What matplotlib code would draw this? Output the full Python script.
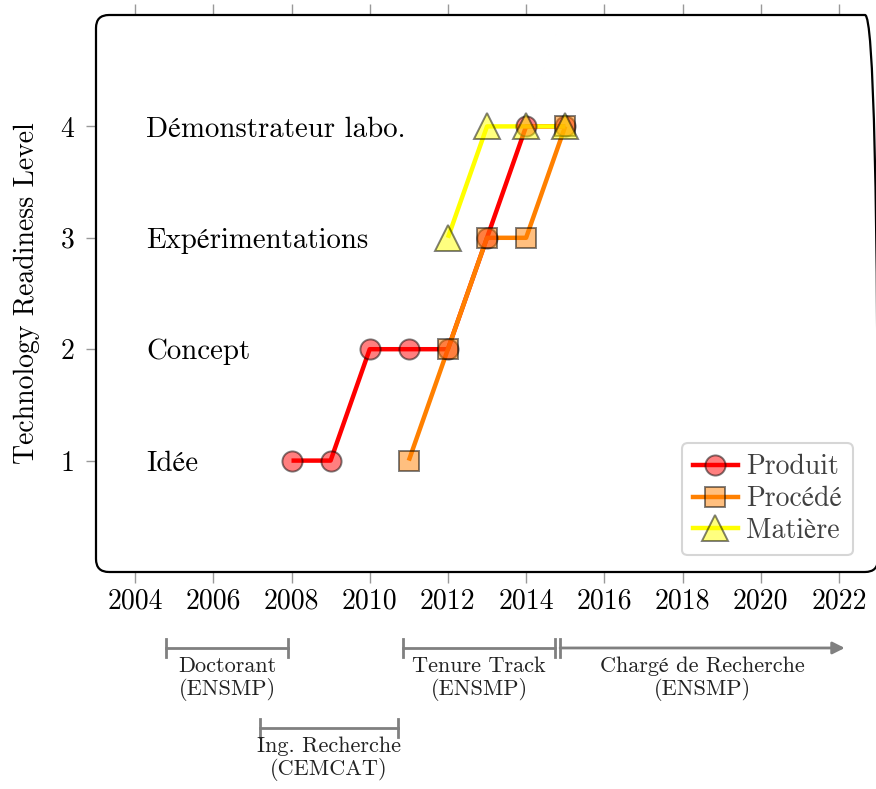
import matplotlib
matplotlib.use("Agg")
import matplotlib.pyplot as plt
import matplotlib.transforms as mtransforms
from matplotlib.patches import FancyBboxPatch
from matplotlib.lines import Line2D

plt.rcParams["font.family"] = ["cmr10", "STIXGeneral"]
plt.rcParams["axes.formatter.use_mathtext"] = True

# --- data ---
level_names = ["Idée", "Concept", "Expérimentations", "Démonstrateur labo."]
levels = [1, 2, 3, 4]

produit_years = [2008, 2009, 2010, 2011, 2012, 2013, 2014, 2015]
produit_trl = [1, 1, 2, 2, 2, 3, 4, 4]
procede_years = [2011, 2012, 2013, 2014, 2015]
procede_trl = [1, 2, 3, 3, 4]
matiere_years = [2012, 2013, 2014, 2015]
matiere_trl = [3, 4, 4, 4]

x_ticks = list(range(2004, 2023, 2))

periods = ["Doctorant\n(ENSMP)", "Ing. Recherche\n(CEMCAT)",
           "Tenure Track\n(ENSMP)", "Chargé de Recherche\n(ENSMP)"]
period_start = [2004.8, 2007.2, 2010.85, 2014.87]
period_end = [2007.9, 2010.72, 2014.74, 2022.15]
period_row = [0, 1, 0, 0]
period_open = [False, False, False, True]

RED = (1.0, 0.0, 0.0)
ORANGE = (1.0, 0.5, 0.0)
YELLOW = (1.0, 1.0, 0.0)
EDGE = (0, 0, 0, 0.5)
GRAY = "#808080"

series = [
    ("Produit", produit_years, produit_trl, RED, "o", 14.5),
    ("Procédé", procede_years, procede_trl, ORANGE, "s", 14.5),
    ("Matière", matiere_years, matiere_trl, YELLOW, "^", 18.5),
]

W, H = 876, 789
fig = plt.figure(figsize=(W / 100, H / 100), dpi=100)
ax_l, ax_r, ax_t, ax_b = 96, 878, 15, 572
ax = fig.add_axes([ax_l / W, 1 - ax_b / H, (ax_r - ax_l) / W, (ax_b - ax_t) / H])

# lines first, markers on top (pgfplots style)
handles = []
for name, xs, ys, col, mk, ms in series:
    ax.plot(xs, ys, color=col, lw=3.2, zorder=2, solid_capstyle="butt")
for name, xs, ys, col, mk, ms in series:
    ax.plot(xs, ys, ls="none", marker=mk, ms=ms, mfc=col + (0.5,), mec=EDGE,
            mew=1.4, zorder=3)
    handles.append(Line2D([], [], color=col, lw=3.2, marker=mk, ms=ms,
                          mfc=col + (0.5,), mec=EDGE, mew=1.4, label=name))

for lv, nm in zip(levels, level_names):
    ax.text(2004.28, lv, nm, fontsize=20.8, ha="left", va="center_baseline")

ax.set_xlim(2003, 2023)
ax.set_ylim(0, 5)
ax.set_xticks(x_ticks)
ax.set_xticklabels([str(v) for v in x_ticks])
ax.set_yticks(levels)
ax.set_yticklabels([str(v) for v in levels])
ax.tick_params(axis="x", top=True, bottom=True, direction="out", length=8,
               width=1, color="#999999", labelsize=20, pad=4)
ax.tick_params(axis="y", left=True, right=False, direction="out", length=7.5,
               width=1, color="#999999", labelsize=20, pad=8)
for sp in ax.spines.values():
    sp.set_visible(False)

# rounded frame
w_px, h_px = ax_r - ax_l, ax_b - ax_t
frame = FancyBboxPatch((0, 0), 1, 1, boxstyle=f"round,pad=0,rounding_size={13 / w_px}",
                       mutation_aspect=w_px / h_px, transform=ax.transAxes,
                       fill=False, ec="black", lw=1.6, clip_on=False, zorder=5)
ax.add_patch(frame)

fig.text(27 / W, 1 - 293 / H, "Technology Readiness Level", rotation=90,
         fontsize=20, ha="center", va="center")

leg = ax.legend(handles=handles, loc="lower right", bbox_to_anchor=(0.968, 0.03),
                borderaxespad=0, fontsize=20, handlelength=1.6, handletextpad=0.3,
                labelspacing=0.2, borderpad=0.4, fancybox=True, framealpha=0.8,
                edgecolor="#cccccc", labelcolor="#404040", numpoints=1)
leg.get_frame().set_linewidth(1.5)

# career timeline under the axis
trans = mtransforms.blended_transform_factory(ax.transData, ax.transAxes)
row_y = [-0.1364, -0.2801]
bar_h = 0.016
for label, x0, x1, row, is_open in zip(periods, period_start, period_end,
                                       period_row, period_open):
    y = row_y[row]
    if is_open:
        ax.annotate("", xy=(x1, y), xytext=(x0, y), xycoords=trans, textcoords=trans,
                    arrowprops=dict(arrowstyle="-|>", color=GRAY, lw=2,
                                    shrinkA=0, shrinkB=0, mutation_scale=18),
                    annotation_clip=False)
        ends = [x0]
    else:
        ax.plot([x0, x1], [y, y], color=GRAY, lw=2, transform=trans, clip_on=False)
        ends = [x0, x1]
    for xe in ends:
        ax.plot([xe, xe], [y - bar_h, y + bar_h], color=GRAY, lw=2,
                transform=trans, clip_on=False)
    ax.text((x0 + x1) / 2, y - 0.015, label, transform=trans, fontsize=16,
            ha="center", va="top", linespacing=1.15, color="#222222")

fig.savefig("out.png", dpi=100, facecolor="white")
